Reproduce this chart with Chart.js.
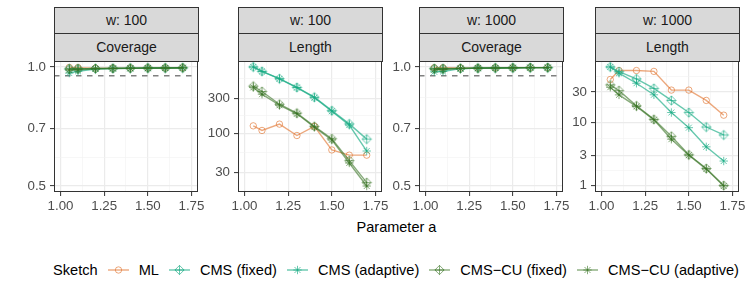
<!DOCTYPE html>
<html>
<head>
<meta charset="utf-8">
<script src="https://cdn.jsdelivr.net/npm/chart.js@4.4.1/dist/chart.umd.min.js"></script>
<style>
  body { margin: 0; background: #fff; font-family: "Liberation Sans", Arial, sans-serif; }
  #wrap { position: relative; width: 747px; height: 298px; overflow: hidden; background: #fff; }
  .strip { position: absolute; box-sizing: border-box; background: #d9d9d9; border: 1px solid #333;
           color: #1a1a1a; font-size: 14px; text-align: center; }
  canvas { position: absolute; }
  #xtitle { position: absolute; left: 54px; width: 685px; top: 219px; text-align: center; font-size: 14.5px; color: #000; }
  #legend { position: absolute; left: 53px; top: 262px; display: flex; align-items: center; column-gap: 10px;
            font-size: 14.6px; color: #000; white-space: nowrap; }
  #legend svg { display: block; }
</style>
</head>
<body>
<div id="wrap">
  <div id="xtitle">Parameter a</div>
  <div id="legend"></div>
</div>
<script>
// data
const xs = [1.05, 1.1, 1.2, 1.3, 1.4, 1.5, 1.6, 1.7]
const sketches = ['ML', 'CMS (fixed)', 'CMS (adaptive)', 'CMS\u2212CU (fixed)', 'CMS\u2212CU (adaptive)']

// rows follow the order of sketches
const coverageW100 = [
  [0.997, 0.996, 0.993, 0.993, 0.993, 0.994, 0.994, 0.995],
  [0.989, 0.989, 0.991, 0.992, 0.993, 0.994, 0.994, 0.995],
  [0.965, 0.975, 0.988, 0.991, 0.992, 0.993, 0.994, 0.995],
  [0.988, 0.989, 0.991, 0.992, 0.993, 0.994, 0.994, 0.995],
  [0.982, 0.984, 0.989, 0.991, 0.992, 0.993, 0.994, 0.995]
]
const lengthW100 = [
  [127, 110, 134, 94, 125, 60, 51, 51],
  [794, 693, 551, 420, 310, 204, 135, 84],
  [794, 690, 548, 418, 305, 200, 130, 58],
  [437, 370, 249, 189, 125, 85, 43, 21.7],
  [420, 340, 241, 185, 122, 82, 40, 19.5]
]
const coverageW1000 = [
  [0.995, 0.995, 0.994, 0.994, 0.995, 0.995, 0.996, 0.996],
  [0.990, 0.990, 0.992, 0.993, 0.994, 0.995, 0.996, 0.996],
  [0.972, 0.974, 0.990, 0.993, 0.994, 0.995, 0.996, 0.996],
  [0.990, 0.990, 0.992, 0.993, 0.994, 0.995, 0.996, 0.996],
  [0.984, 0.985, 0.991, 0.993, 0.994, 0.995, 0.996, 0.996]
]
const lengthW1000 = [
  [47, 65, 65, 63, 32, 32, 22, 12.9],
  [74, 62.5, 48, 34, 22, 14.2, 8.4, 6.3],
  [74, 59, 41, 27, 14.2, 8.2, 4.1, 2.45],
  [38.6, 31.4, 18.1, 11.1, 6.0, 3.07, 1.87, 1.01],
  [35.5, 26.9, 17.7, 10.9, 5.4, 3.03, 1.83, 0.99]
]

const xBreaks = [1.00, 1.25, 1.50, 1.75]
const xLabels = ['1.00', '1.25', '1.50', '1.75']
const coverageBreaks = [0.5, 0.7, 1.0]
const coverageLabels = ['0.5', '0.7', '1.0']
const lengthW100Breaks = [30, 100, 300]
const lengthW100Labels = ['30', '100', '300']
const lengthW1000Breaks = [1, 3, 10, 30]
const lengthW1000Labels = ['1', '3', '10', '30']
const coverageLimits = [0.5, 1.0]
const xLimits = [1.0, 1.75]
const targetCoverage = 0.95

const colors = ['rgba(225,115,45,0.62)', 'rgba(22,170,130,0.65)', 'rgba(22,170,130,0.65)',
                'rgba(55,115,35,0.6)', 'rgba(55,115,35,0.6)']
const shapes = ['circle', 'diamondPlus', 'asterisk', 'diamondPlus', 'asterisk']

// ggplot style helpers
function expandLinear(lim) {
  let d = (lim[1] - lim[0]) * 0.05
  return [lim[0] - d, lim[1] + d]
}
function expandLog(lim) {
  let a = Math.log10(lim[0]), b = Math.log10(lim[1]), d = (b - a) * 0.05
  return [Math.pow(10, a - d), Math.pow(10, b + d)]
}
function logMinor(breaks) {
  let out = []
  for (let i = 0; i < breaks.length - 1; i++) out.push(Math.sqrt(breaks[i] * breaks[i + 1]))
  let r = breaks[1] / breaks[0]
  out.push(Math.sqrt(breaks[breaks.length - 1] * breaks[breaks.length - 1] * r))
  out.push(Math.sqrt(breaks[0] * breaks[0] / r))
  return out
}
function linMinor(breaks) {
  let out = [], d = breaks[1] - breaks[0]
  let b = [breaks[0] - d, ...breaks, breaks[breaks.length - 1] + d]
  for (let i = 0; i < b.length - 1; i++) out.push((b[i] + b[i + 1]) / 2)
  return out
}
function allRange(rows) {
  let v = rows.flat()
  return [Math.min(...v), Math.max(...v)]
}

function markerImage(color, r) {
  let s = 2 * Math.ceil(r) + 3
  let c = document.createElement('canvas')
  c.width = s; c.height = s
  let g = c.getContext('2d'), m = s / 2
  g.strokeStyle = color
  g.lineWidth = 1
  g.beginPath()
  g.moveTo(m, m - r); g.lineTo(m + r, m); g.lineTo(m, m + r); g.lineTo(m - r, m); g.closePath()
  g.moveTo(m - r, m); g.lineTo(m + r, m)
  g.moveTo(m, m - r); g.lineTo(m, m + r)
  g.stroke()
  return c
}

function pointStyleFor(i) {
  if (shapes[i] == 'circle') return { pointStyle: 'circle', pointRadius: 3.2 }
  if (shapes[i] == 'asterisk') return { pointStyle: 'star', pointRadius: 4.2 }
  return { pointStyle: markerImage(colors[i], 4.6), pointRadius: 4.6 }
}

const panels = [
  { w: 'w: 100', measure: 'Coverage', rows: coverageW100, breaks: coverageBreaks, labels: coverageLabels,
    limits: expandLog(coverageLimits), ref: targetCoverage },
  { w: 'w: 100', measure: 'Length', rows: lengthW100, breaks: lengthW100Breaks, labels: lengthW100Labels,
    limits: expandLog(allRange(lengthW100)) },
  { w: 'w: 1000', measure: 'Coverage', rows: coverageW1000, breaks: coverageBreaks, labels: coverageLabels,
    limits: expandLog(coverageLimits), ref: targetCoverage },
  { w: 'w: 1000', measure: 'Length', rows: lengthW1000, breaks: lengthW1000Breaks, labels: lengthW1000Labels,
    limits: expandLog(allRange(lengthW1000)) }
]

// layout
const panelLeft = [54, 238, 419, 595]
const PW = 144, PTOP = 61, PH = 131
const AX = 40, PADT = 12, PADR = 14, AXH = 24

const refLine = {
  id: 'refLine',
  beforeDatasetsDraw(chart, args, opts) {
    if (opts.value == null) return
    const { ctx, chartArea: a, scales } = chart
    let py = scales.y.getPixelForValue(opts.value)
    ctx.save()
    ctx.strokeStyle = '#808080'
    ctx.lineWidth = 1.3
    ctx.setLineDash([5.5, 5.5])
    ctx.beginPath()
    ctx.moveTo(a.left, py); ctx.lineTo(a.right, py)
    ctx.stroke()
    ctx.restore()
  }
}
const panelBorder = {
  id: 'panelBorder',
  afterDraw(chart) {
    const { ctx, chartArea: a } = chart
    ctx.save()
    ctx.strokeStyle = '#333'
    ctx.lineWidth = 1
    ctx.strokeRect(a.left + 0.5, a.top + 0.5, a.width - 1, a.height - 1)
    ctx.restore()
  }
}

const wrap = document.getElementById('wrap')
const tickFont = { family: '"Liberation Sans", Arial, sans-serif', size: 13.3 }

panels.forEach((p, k) => {
  let L = panelLeft[k]
  let s1 = document.createElement('div')
  s1.className = 'strip'
  Object.assign(s1.style, { left: L + 'px', top: '7px', width: (PW + 1) + 'px', height: '27px', lineHeight: '25px' })
  s1.textContent = p.w
  let s2 = document.createElement('div')
  s2.className = 'strip'
  Object.assign(s2.style, { left: L + 'px', top: '33px', width: (PW + 1) + 'px', height: '29px', lineHeight: '27px' })
  s2.textContent = p.measure
  wrap.appendChild(s1); wrap.appendChild(s2)

  let cv = document.createElement('canvas')
  let cw = AX + PW + PADR, ch = PADT + PH + AXH
  cv.width = cw; cv.height = ch
  Object.assign(cv.style, { left: (L - AX) + 'px', top: (PTOP - PADT) + 'px', width: cw + 'px', height: ch + 'px' })
  wrap.appendChild(cv)

  let yMinor = logMinor(p.breaks)
  let xMinor = linMinor(xBreaks)
  let xl = expandLinear(xLimits)

  let datasets = p.rows.map((row, i) => Object.assign({
    label: sketches[i],
    data: row.map((v, j) => ({ x: xs[j], y: v })),
    borderColor: colors[i],
    backgroundColor: 'rgba(0,0,0,0)',
    pointBorderColor: colors[i],
    pointBackgroundColor: 'rgba(0,0,0,0)',
    pointBorderWidth: 1,
    borderWidth: 1.4,
    tension: 0,
    order: sketches.length - i
  }, pointStyleFor(i)))

  new Chart(cv, {
    type: 'line',
    data: { datasets: datasets },
    plugins: [refLine, panelBorder],
    options: {
      responsive: false,
      animation: false,
      devicePixelRatio: 1,
      layout: { padding: { left: 0, top: PADT, right: PADR, bottom: 0 } },
      plugins: { legend: { display: false }, tooltip: { enabled: false }, refLine: { value: p.ref } },
      scales: {
        x: {
          type: 'linear',
          min: xl[0], max: xl[1],
          afterBuildTicks: sc => { sc.ticks = [...xBreaks, ...xMinor].filter(v => v > xl[0] && v < xl[1]).map(v => ({ value: v })) },
          afterFit: sc => { sc.height = AXH },
          ticks: {
            autoSkip: false, maxRotation: 0, padding: 2, color: '#4d4d4d', font: tickFont,
            callback: v => { let i = xBreaks.indexOf(v); return i < 0 ? '' : xLabels[i] }
          },
          grid: {
            color: c => xBreaks.includes(c.tick.value) ? '#ebebeb' : '#f2f2f2',
            lineWidth: c => xBreaks.includes(c.tick.value) ? 1.2 : 0.6,
            tickColor: c => xBreaks.includes(c.tick.value) ? '#333' : 'rgba(0,0,0,0)',
            tickLength: 4, tickWidth: 1
          },
          border: { display: false }
        },
        y: {
          type: 'logarithmic',
          min: p.limits[0], max: p.limits[1],
          afterBuildTicks: sc => { sc.ticks = [...p.breaks, ...yMinor].filter(v => v > p.limits[0] && v < p.limits[1]).map(v => ({ value: v })) },
          afterFit: sc => { sc.width = AX },
          ticks: {
            autoSkip: false, padding: 4, color: '#4d4d4d', font: tickFont,
            callback: v => { let i = p.breaks.indexOf(v); return i < 0 ? '' : p.labels[i] }
          },
          grid: {
            color: c => p.breaks.includes(c.tick.value) ? '#ebebeb' : '#f2f2f2',
            lineWidth: c => p.breaks.includes(c.tick.value) ? 1.2 : 0.6,
            tickColor: c => p.breaks.includes(c.tick.value) ? '#333' : 'rgba(0,0,0,0)',
            tickLength: 4, tickWidth: 1
          },
          border: { display: false }
        }
      }
    }
  })
})

// legend
const legend = document.getElementById('legend')
let title = document.createElement('span')
title.textContent = 'Sketch'
legend.appendChild(title)
sketches.forEach((name, i) => {
  let c = colors[i], mark = ''
  if (shapes[i] == 'circle') mark = `<circle cx="10.5" cy="7" r="3.2" fill="none" stroke="${c}"/>`
  else if (shapes[i] == 'asterisk') mark = `<path d="M10.5 2.8V11.2M6.3 7H14.7M7.5 4L13.5 10M13.5 4L7.5 10" stroke="${c}" fill="none"/>`
  else mark = `<path d="M10.5 2.4L15.1 7L10.5 11.6L5.9 7ZM5.9 7H15.1M10.5 2.4V11.6" stroke="${c}" fill="none"/>`
  let key = document.createElement('span')
  key.innerHTML = `<svg width="21" height="14"><line x1="0" y1="7" x2="21" y2="7" stroke="${c}" stroke-width="1.4"/>${mark}</svg>`
  legend.appendChild(key)
  let t = document.createElement('span')
  t.textContent = name
  legend.appendChild(t)
})
</script>
</body>
</html>
